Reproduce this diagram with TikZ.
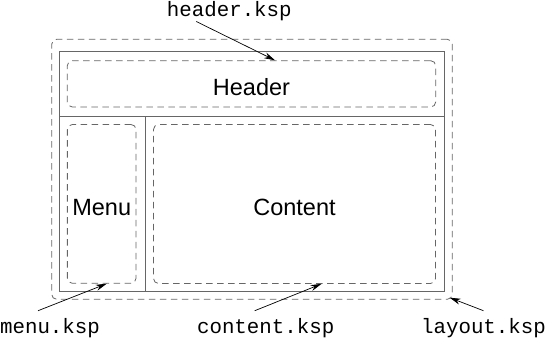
\documentclass[tikz,border=0pt]{standalone}
\usepackage{fontspec}
\setmainfont{Liberation Sans}
\setmonofont{Liberation Mono}
\usepackage{tikz}
\usetikzlibrary{shapes,arrows.meta,positioning,calc}
\tikzstyle{arrow} = [line width=0.7pt,-{Stealth[length=11pt,width=6pt]}]
\tikzstyle{cell} = [draw=black!60, line width=0.9pt, inner sep=0pt]
\tikzstyle{part} = [draw=black!60, line width=0.8pt, dash pattern=on 6.5pt off 4.5pt, rounded corners=5pt, inner sep=0pt, text height=23pt, text depth=0pt, font=\fontsize{23.5}{26}\selectfont]
\tikzstyle{fname} = [font=\ttfamily\fontsize{20.8}{24}\selectfont, inner sep=0pt, anchor=base]

\begin{document}
\begin{tikzpicture}[x=1pt, y=-1pt]
            \useasboundingbox (0,0) rectangle (550,339);

            % 外层 layout
            \node[part, minimum width=400.6pt, minimum height=260pt] (layout) at (252,169.3) {};

            % 实线格子
            \node[cell, minimum width=384.7pt, minimum height=64.3pt] (headcell) at (251.65,83.85) {};
            \node[cell, minimum width=85.7pt, minimum height=175.3pt] (menucell) at (102.15,203.65) {};
            \node[cell, minimum width=299pt, minimum height=175.3pt] (contentcell) at (294.5,203.65) {};

            % 三个部分
            \node[part, minimum width=368.4pt, minimum height=46.3pt] (header) at (251.5,83.85) {Header};
            \node[part, minimum width=68.7pt, minimum height=158.8pt] (menu) at (101.7,203.9) {Menu};
            \node[part, minimum width=282pt, minimum height=159pt] (content) at (294.5,204) {Content};

            % 文件名
            \node[fname] (hk) at (229.3,17) {header.ksp};
            \node[fname] (mk) at (50,334) {menu.ksp};
            \node[fname] (ck) at (265.7,334) {content.ksp};
            \node[fname] (lk) at (483.5,334) {layout.ksp};

            % 指向各部分
            \draw[arrow] ($(hk.south)+(-33,0)$) -- ($(header.north)+(23.5,0)$);
            \draw[arrow] ($(mk.north)+(-12,-8)$) -- ($(menu.south)+(5,0)$);
            \draw[arrow] ($(ck.north)+(-11,-8)$) -- ($(content.south)+(27,0)$);
            \draw[arrow] ($(lk.north)+(0,-8)$) -- ($(layout.south east)+(-3,-2)$);
        \end{tikzpicture}
\end{document}
